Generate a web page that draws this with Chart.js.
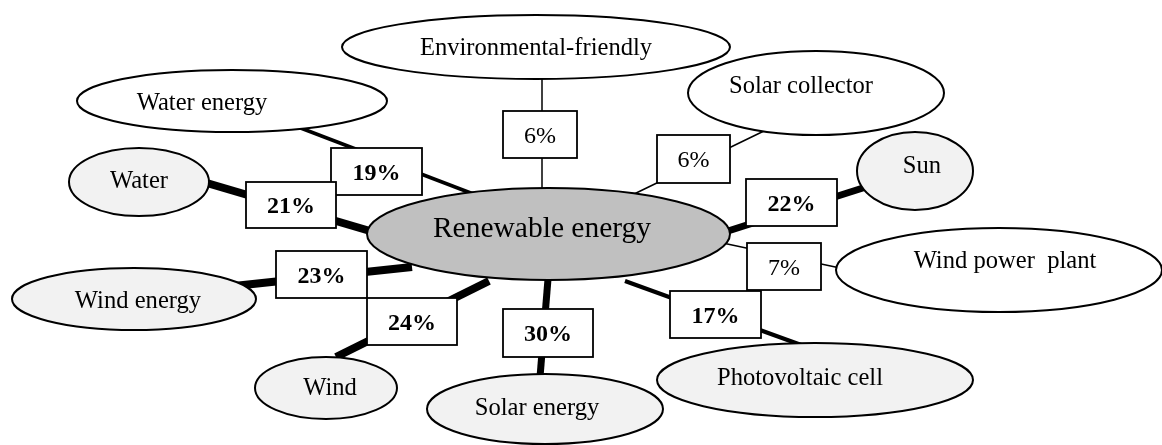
<!DOCTYPE html>
<html><head><meta charset="utf-8">
<script src="https://cdn.jsdelivr.net/npm/chart.js@4.4.1/dist/chart.umd.min.js"></script>
<style>html,body{margin:0;padding:0;background:#fff;overflow:hidden}canvas{display:block}</style>
</head><body>
<canvas id="c" width="1162" height="445"></canvas>
<script>
// ---- data ----
const centerLabel = 'Renewable energy';
const categories = ['Environmental-friendly','Water energy','Water','Wind energy','Wind','Solar energy','Photovoltaic cell','Wind power  plant','Sun','Solar collector'];
const shares = [6, 19, 21, 23, 24, 30, 17, 7, 22, 6];
const tickLabels = shares.map(v => v + '%');

// ---- layout (diagram units: x 0..1162, y 0..445 downward) ----
const centerNode = {x: 548.5, y: 234, rx: 181.5, ry: 46, lx: 542, ly: 237};
const nodeX  = [536, 232, 139, 134, 326, 545, 815, 999, 915, 816];
const nodeY  = [47, 101, 182, 299, 388, 409, 380, 270, 171, 93];
const nodeRX = [194, 155, 70, 122, 71, 118, 158, 163, 58, 128];
const nodeRY = [32, 31, 34, 31, 31, 35, 37, 42, 39, 42];
const nodeShaded = [false, false, true, true, true, true, true, false, true, false];
const labelX = [536, 202, 139, 138, 330, 537, 800, 1005, 922, 801];
const labelY = [55, 110, 188, 308, 395, 415, 385, 268, 173, 93];
const boxX = [540, 376.5, 291, 321.5, 412, 548, 715.5, 784, 791.5, 693.5];
const boxY = [134.5, 171.5, 205, 274.5, 321.5, 333, 314.5, 266.5, 202.5, 159];
const boxW = [74, 91, 90, 91, 90, 90, 91, 74, 91, 73];
const boxH = [47, 47, 46, 47, 47, 48, 47, 47, 47, 48];
const linkFromX = [542, 476, 370, 412, 489, 548, 625, 718, 728, 630];
const linkFromY = [190, 195, 231, 267, 281, 279, 281, 242, 231, 196];
const linkToX = [542, 298, 200, 234, 336, 540, 804, 840, 866, 766];
const linkToY = [78, 127, 181, 286, 357, 377, 346, 268, 187, 130];
const linkWidth = [1.5, 3.5, 8, 8, 8, 7, 4, 1.5, 7, 1.5];

const FONT = "'Liberation Serif', 'Times New Roman', serif";

const datasets = categories.map((name, i) => ({
  label: name,
  data: [{x: linkFromX[i], y: linkFromY[i]}, {x: linkToX[i], y: linkToY[i]}],
  showLine: true,
  borderColor: '#000',
  borderWidth: linkWidth[i],
  borderCapStyle: 'butt',
  pointRadius: 0,
  tension: 0,
  fill: false,
  clip: false
}));

const diagramPlugin = {
  id: 'diagram',
  afterDatasetsDraw(chart) {
    const ctx = chart.ctx, xs = chart.scales.x, ys = chart.scales.y;
    const px = v => xs.getPixelForValue(v), py = v => ys.getPixelForValue(v);
    const sx = d => Math.abs(xs.getPixelForValue(d) - xs.getPixelForValue(0));
    const sy = d => Math.abs(ys.getPixelForValue(d) - ys.getPixelForValue(0));
    function ellipse(cx, cy, rx, ry, fill) {
      ctx.beginPath();
      ctx.ellipse(px(cx), py(cy), sx(rx), sy(ry), 0, 0, Math.PI * 2);
      ctx.fillStyle = fill; ctx.fill();
      ctx.lineWidth = 2; ctx.strokeStyle = '#000'; ctx.stroke();
    }
    ctx.save();
    // central node
    ellipse(centerNode.x, centerNode.y, centerNode.rx, centerNode.ry, '#c0c0c0');
    ctx.fillStyle = '#000';
    ctx.font = '29.5px ' + FONT;
    ctx.textAlign = 'center'; ctx.textBaseline = 'alphabetic';
    ctx.fillText(centerLabel, px(centerNode.lx), py(centerNode.ly));
    // outer nodes
    categories.forEach((name, i) => {
      ellipse(nodeX[i], nodeY[i], nodeRX[i], nodeRY[i], nodeShaded[i] ? '#f2f2f2' : '#ffffff');
      ctx.fillStyle = '#000';
      ctx.font = '24.6px ' + FONT;
      ctx.fillText(name, px(labelX[i]), py(labelY[i]));
    });
    // value boxes
    categories.forEach((name, i) => {
      const w = sx(boxW[i]), h = sy(boxH[i]);
      const x0 = px(boxX[i]) - w / 2, y0 = py(boxY[i]) - h / 2;
      ctx.fillStyle = '#fff';
      ctx.fillRect(x0, y0, w, h);
      ctx.lineWidth = 1.8; ctx.strokeStyle = '#000';
      ctx.strokeRect(x0, y0, w, h);
      ctx.fillStyle = '#000';
      ctx.font = (shares[i] >= 10 ? 'bold ' : '') + '24px ' + FONT;
      ctx.fillText(tickLabels[i], px(boxX[i]), py(boxY[i]) + 8);
    });
    ctx.restore();
  }
};

new Chart(document.getElementById('c'), {
  type: 'line',
  data: { datasets },
  options: {
    responsive: false,
    devicePixelRatio: 1,
    animation: false,
    events: [],
    layout: { padding: 0 },
    plugins: { legend: { display: false }, tooltip: { enabled: false } },
    scales: {
      x: { type: 'linear', min: 0, max: 1162, display: false },
      y: { type: 'linear', min: 0, max: 445, reverse: true, display: false }
    }
  },
  plugins: [diagramPlugin]
});
</script>
</body></html>
